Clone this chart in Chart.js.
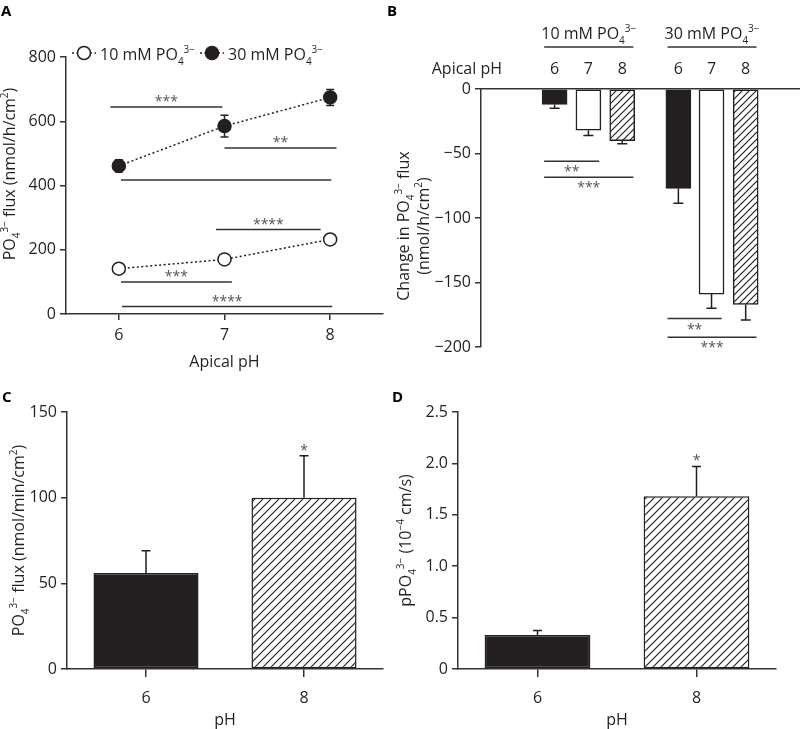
<!DOCTYPE html>
<html>
<head>
<meta charset="utf-8">
<script src="https://cdn.jsdelivr.net/npm/chart.js@4.4.1/dist/chart.umd.min.js"></script>
<style>
  body { margin: 0; background: #fff; width: 800px; height: 729px; position: relative; overflow: hidden; }
  canvas { position: absolute; }
</style>
</head>
<body>
<canvas id="cA" width="400" height="380" style="left:0px;top:0px"></canvas>
<canvas id="cB" width="415" height="365" style="left:385px;top:0px"></canvas>
<canvas id="cC" width="400" height="359" style="left:0px;top:370px"></canvas>
<canvas id="cD" width="410" height="359" style="left:390px;top:370px"></canvas>
<script>
// Panel A: flux vs apical pH
const phA = [6, 7, 8]
const flux10mM = [141, 170, 232]
const flux30mM = [461, 585, 674]
const err10mM = [5, 5, 5]
const err30mM = [19, 34, 25]
// significance bars: [from pH, to pH, level, stars]
const sigA = [
  [5.92, 6.98, 644, "***"],
  [7.0, 8.06, 517, "**"],
  [6.02, 8.01, 417, ""],
  [6.92, 7.91, 263, "****"],
  [6.02, 7.07, 100, "***"],
  [6.03, 8.02, 23, "****"],
]

// Panel B: change in flux
const posB = [0, 1, 2, 3.66, 4.64, 5.65]
const phB = ["6", "7", "8", "6", "7", "8"]
const changeB = [-12, -32, -40, -77, -159, -167]
const errB = [3, 4, 2.5, 11.5, 11, 12]
const fillB = ["solid", "open", "hatch", "solid", "open", "hatch"]
const groupsB = [[-0.31, 2.33, "10 mM PO"], [3.34, 5.97, "30 mM PO"]]
const sigB = [
  [-0.31, 1.32, -56, "**"],
  [-0.31, 2.33, -68.5, "***"],
  [3.34, 4.94, -178, "**"],
  [3.34, 5.97, -192.5, "***"],
]

// Panels C and D
const phCD = ["6", "8"]
const fluxC = [56, 100]
const errC = [13, 24.5]
const starsC = ["", "*"]
const permD = [0.33, 1.68]
const errD = [0.045, 0.29]
const starsD = ["", "*"]

const FONT = "'Open Sans', 'DejaVu Sans', sans-serif"
const INK = "#231f20"
const AX = "#333"
const STAR = "#555"

Chart.defaults.font.family = FONT
Chart.defaults.font.size = 16
Chart.defaults.color = INK

function hatch(ctx, size) {
  const c = document.createElement("canvas")
  c.width = size
  c.height = size
  const g = c.getContext("2d")
  g.fillStyle = "#fff"
  g.fillRect(0, 0, size, size)
  g.strokeStyle = "#222"
  g.lineWidth = 1.2
  g.beginPath()
  g.moveTo(0, size)
  g.lineTo(size, 0)
  g.moveTo(-1, 1)
  g.lineTo(1, -1)
  g.moveTo(size - 1, size + 1)
  g.lineTo(size + 1, size - 1)
  g.stroke()
  return ctx.createPattern(c, "repeat")
}

// text with sub/superscripts; y is the visual middle of the capitals
function richWidth(ctx, segs, fs) {
  let w = 0
  segs.forEach(([t, k]) => {
    ctx.font = (k === "n" ? fs : Math.round(fs * 0.62)) + "px " + FONT
    w += ctx.measureText(t).width
  })
  return w
}

function drawRich(ctx, segs, x, y, fs, align) {
  const w = richWidth(ctx, segs, fs)
  let cx = align === "center" ? x - w / 2 : align === "right" ? x - w : x
  const base = y + fs * 0.36
  ctx.textAlign = "left"
  ctx.textBaseline = "alphabetic"
  ctx.fillStyle = INK
  segs.forEach(([t, k]) => {
    ctx.font = (k === "n" ? fs : Math.round(fs * 0.62)) + "px " + FONT
    const by = k === "sub" ? base + fs * 0.3 : k === "sup" ? base - fs * 0.45 : base
    ctx.fillText(t, cx, by)
    cx += ctx.measureText(t).width
  })
}

function drawRotated(ctx, segs, x, y, fs) {
  ctx.save()
  ctx.translate(x, y)
  ctx.rotate(-Math.PI / 2)
  drawRich(ctx, segs, 0, 0, fs, "center")
  ctx.restore()
}

function panelLetter(ctx, letter, x, y) {
  ctx.save()
  ctx.font = "bold 15px " + FONT
  ctx.fillStyle = "#000"
  ctx.textAlign = "left"
  ctx.textBaseline = "alphabetic"
  ctx.fillText(letter, x, y)
  ctx.restore()
}

function hLine(ctx, x1, x2, y) {
  ctx.beginPath()
  ctx.moveTo(x1, y)
  ctx.lineTo(x2, y)
  ctx.stroke()
}

function stars(ctx, text, x, y) {
  ctx.font = "14px " + FONT
  ctx.fillStyle = STAR
  ctx.textAlign = "center"
  ctx.textBaseline = "alphabetic"
  ctx.fillText(text, x, y)
}

function errorBar(ctx, x, y1, y2, cap) {
  ctx.beginPath()
  ctx.moveTo(x, y1)
  ctx.lineTo(x, y2)
  ctx.moveTo(x - cap / 2, y2)
  ctx.lineTo(x + cap / 2, y2)
  ctx.stroke()
}

const PO4 = [["PO", "n"], ["4", "sub"], ["3\u2212", "sup"]]

function scaleBase(extra) {
  return {
    grid: { drawOnChartArea: false, color: AX, lineWidth: 1.5, tickLength: 6, tickWidth: 1.5 },
    border: { color: AX, width: 1.5 },
    ticks: { color: INK, font: { size: 16 }, padding: 4 },
    ...extra,
  }
}

const baseOptions = {
  animation: false,
  responsive: false,
  plugins: { legend: { display: false }, tooltip: { enabled: false } },
}

// ---------- Panel A ----------
const panelA = {
  id: "panelA",
  beforeDatasetsDraw(chart) {
    const { ctx, scales } = chart
    ctx.save()
    ctx.strokeStyle = INK
    ctx.lineWidth = 1.5
    ;[[flux10mM, err10mM], [flux30mM, err30mM]].forEach(([vals, errs]) => {
      vals.forEach((v, i) => {
        const x = scales.x.getPixelForValue(phA[i])
        errorBar(ctx, x, scales.y.getPixelForValue(v), scales.y.getPixelForValue(v + errs[i]), 8)
        errorBar(ctx, x, scales.y.getPixelForValue(v), scales.y.getPixelForValue(v - errs[i]), 8)
      })
    })
    ctx.restore()
  },
  afterDraw(chart) {
    const { ctx, scales, chartArea } = chart
    ctx.save()
    ctx.strokeStyle = AX
    ctx.lineWidth = 1.5
    sigA.forEach(([a, b, level, label]) => {
      const x1 = scales.x.getPixelForValue(a)
      const x2 = scales.x.getPixelForValue(b)
      const y = scales.y.getPixelForValue(level)
      hLine(ctx, x1, x2, y)
      if (label) stars(ctx, label, (x1 + x2) / 2, y - 1)
    })

    // legend
    const ly = chartArea.top - 4
    const items = [
      [chartArea.left + 6, "#fff", "10 mM PO"],
      [chartArea.left + 134, INK, "30 mM PO"],
    ]
    items.forEach(([x0, fill, label]) => {
      ctx.setLineDash([2, 2.5])
      ctx.lineWidth = 1.5
      ctx.strokeStyle = INK
      hLine(ctx, x0, x0 + 24, ly)
      ctx.setLineDash([])
      ctx.beginPath()
      ctx.arc(x0 + 12, ly, 6.5, 0, Math.PI * 2)
      ctx.fillStyle = fill
      ctx.fill()
      ctx.stroke()
      drawRich(ctx, [[label, "n"], ["4", "sub"], ["3\u2212", "sup"]], x0 + 28, ly + 1, 16, "left")
    })

    drawRotated(ctx, [...PO4, [" flux (nmol/h/cm", "n"], ["2", "sup"], [")", "n"]], 9, 174, 16)
    ctx.font = "16px " + FONT
    ctx.fillStyle = INK
    ctx.textAlign = "center"
    ctx.textBaseline = "middle"
    ctx.fillText("Apical pH", (chartArea.left + chartArea.right) / 2, chartArea.bottom + 48)
    panelLetter(ctx, "A", 1, 16)
    ctx.restore()
  },
}

new Chart(document.getElementById("cA"), {
  type: "line",
  data: {
    datasets: [
      {
        label: "10 mM PO4",
        data: phA.map((x, i) => ({ x, y: flux10mM[i] })),
        borderColor: INK,
        borderWidth: 1.5,
        borderDash: [2, 2.5],
        pointRadius: 6.5,
        pointBorderWidth: 1.5,
        pointBorderColor: INK,
        pointBackgroundColor: "#fff",
      },
      {
        label: "30 mM PO4",
        data: phA.map((x, i) => ({ x, y: flux30mM[i] })),
        borderColor: INK,
        borderWidth: 1.5,
        borderDash: [2, 2.5],
        pointRadius: 6.5,
        pointBorderWidth: 1.5,
        pointBorderColor: INK,
        pointBackgroundColor: INK,
      },
    ],
  },
  options: {
    ...baseOptions,
    layout: { padding: { top: 57, right: 17, left: 0, bottom: 0 } },
    scales: {
      x: scaleBase({
        type: "linear",
        min: 5.5,
        max: 8.5,
        ticks: { color: INK, font: { size: 16 }, padding: 6 },
        afterBuildTicks: (s) => { s.ticks = phA.map((v) => ({ value: v })) },
        afterFit: (s) => { s.height = 66 },
      }),
      y: scaleBase({
        min: 0,
        max: 800,
        ticks: { color: INK, font: { size: 16 }, padding: 4, stepSize: 200 },
        afterFit: (s) => { s.width = 66 },
      }),
    },
  },
  plugins: [panelA],
})

// ---------- Panel B ----------
const ctxB = document.getElementById("cB").getContext("2d")
const hatchB = hatch(ctxB, 7)
const panelB = {
  id: "panelB",
  afterDatasetsDraw(chart) {
    const { ctx, scales } = chart
    ctx.save()
    ctx.strokeStyle = INK
    ctx.lineWidth = 1.5
    changeB.forEach((v, i) => {
      const x = scales.x.getPixelForValue(posB[i])
      errorBar(ctx, x, scales.y.getPixelForValue(v), scales.y.getPixelForValue(v - errB[i]), 10)
    })
    ctx.restore()
  },
  afterDraw(chart) {
    const { ctx, scales, chartArea } = chart
    ctx.save()
    ctx.strokeStyle = AX
    ctx.lineWidth = 1.5
    sigB.forEach(([a, b, level, label]) => {
      const x1 = scales.x.getPixelForValue(a)
      const x2 = scales.x.getPixelForValue(b)
      const y = scales.y.getPixelForValue(level)
      hLine(ctx, x1, x2, y)
      stars(ctx, label, (x1 + x2) / 2, y + 15)
    })
    groupsB.forEach(([a, b, label]) => {
      const x1 = scales.x.getPixelForValue(a)
      const x2 = scales.x.getPixelForValue(b)
      ctx.strokeStyle = AX
      hLine(ctx, x1, x2, chartArea.top - 42)
      drawRich(ctx, [[label, "n"], ["4", "sub"], ["3\u2212", "sup"]], (x1 + x2) / 2, chartArea.top - 56, 16, "center")
    })
    ctx.font = "16px " + FONT
    ctx.fillStyle = INK
    ctx.textAlign = "right"
    ctx.textBaseline = "middle"
    ctx.fillText("Apical pH", chartArea.left + 21, 69)

    drawRotated(ctx, [["Change in ", "n"], ...PO4, [" flux", "n"]], 18, 226, 16)
    drawRotated(ctx, [["(nmol/h/cm", "n"], ["2", "sup"], [")", "n"]], 38, 226, 16)
    panelLetter(ctx, "B", 2, 16)
    ctx.restore()
  },
}

new Chart(ctxB, {
  type: "bar",
  data: {
    datasets: [
      {
        data: posB.map((x, i) => ({ x, y: changeB[i] })),
        backgroundColor: fillB.map((f) => (f === "solid" ? INK : f === "open" ? "#fff" : hatchB)),
        borderColor: INK,
        borderWidth: 1.5,
        borderSkipped: false,
        barThickness: 25,
      },
    ],
  },
  options: {
    ...baseOptions,
    layout: { padding: { top: 59, right: 0, left: 0, bottom: 18 } },
    scales: {
      x: scaleBase({
        type: "linear",
        position: "top",
        min: -1.39,
        max: 6.47,
        grid: { drawOnChartArea: false, drawTicks: false, color: AX },
        ticks: { color: INK, font: { size: 16 }, padding: 10, callback: (v, i) => phB[i] },
        afterBuildTicks: (s) => { s.ticks = posB.map((v) => ({ value: v })) },
        afterFit: (s) => { s.height = 30 },
      }),
      y: scaleBase({
        min: -200,
        max: 0,
        ticks: {
          color: INK,
          font: { size: 16 },
          padding: 4,
          stepSize: 50,
          callback: (v) => (v < 0 ? "\u2212" + Math.abs(v) : String(v)),
        },
        afterFit: (s) => { s.width = 96 },
      }),
    },
  },
  plugins: [panelB],
})

// ---------- Panels C and D ----------
function barPanel(id, values, errs, starList, yMax, yStep, yFmt, yTitle, letter, padRight, yWidth, titleX) {
  const ctx = document.getElementById(id).getContext("2d")
  const pattern = hatch(ctx, 8)
  const plugin = {
    id: "panel" + letter,
    afterDatasetsDraw(chart) {
      const { ctx, scales } = chart
      ctx.save()
      ctx.strokeStyle = INK
      ctx.lineWidth = 1.5
      values.forEach((v, i) => {
        const x = scales.x.getPixelForValue(i)
        const top = scales.y.getPixelForValue(v + errs[i])
        errorBar(ctx, x, scales.y.getPixelForValue(v), top, 9)
        if (starList[i]) stars(ctx, starList[i], x, top - 1)
      })
      ctx.restore()
    },
    afterDraw(chart) {
      const { ctx, chartArea } = chart
      ctx.save()
      drawRotated(ctx, yTitle, titleX, (chartArea.top + chartArea.bottom) / 2, 16)
      ctx.font = "16px " + FONT
      ctx.fillStyle = INK
      ctx.textAlign = "center"
      ctx.textBaseline = "middle"
      ctx.fillText("pH", (chartArea.left + chartArea.right) / 2, chartArea.bottom + 51)
      panelLetter(ctx, letter, 2, 32)
      ctx.restore()
    },
  }
  return new Chart(ctx, {
    type: "bar",
    data: {
      labels: phCD,
      datasets: [
        {
          data: values,
          backgroundColor: [INK, pattern],
          borderColor: INK,
          borderWidth: 1.5,
          borderSkipped: false,
          barPercentage: 0.665,
          categoryPercentage: 1,
        },
      ],
    },
    options: {
      ...baseOptions,
      layout: { padding: { top: 42, right: padRight, left: 0, bottom: 0 } },
      scales: {
        x: scaleBase({
          grid: { drawOnChartArea: false, offset: false, color: AX, lineWidth: 1.5, tickLength: 8, tickWidth: 1.5 },
          ticks: { color: INK, font: { size: 16 }, padding: 12 },
          afterFit: (s) => { s.height = 60 },
        }),
        y: scaleBase({
          min: 0,
          max: yMax,
          ticks: { color: INK, font: { size: 16 }, padding: 4, stepSize: yStep, callback: yFmt },
          afterFit: (s) => { s.width = yWidth },
        }),
      },
    },
    plugins: [plugin],
  })
}

barPanel("cC", fluxC, errC, starsC, 150, 50, (v) => String(v),
  [...PO4, [" flux (nmol/min/cm", "n"], ["2", "sup"], [")", "n"]], "C", 17, 67, 18)
barPanel("cD", permD, errD, starsD, 2.5, 0.5, (v) => (v === 0 ? "0" : v.toFixed(1)),
  [["pPO", "n"], ["4", "sub"], ["3\u2212", "sup"], [" (10", "n"], ["\u22124", "sup"], [" cm/s)", "n"]], "D", 24, 68, 15)
</script>
</body>
</html>
